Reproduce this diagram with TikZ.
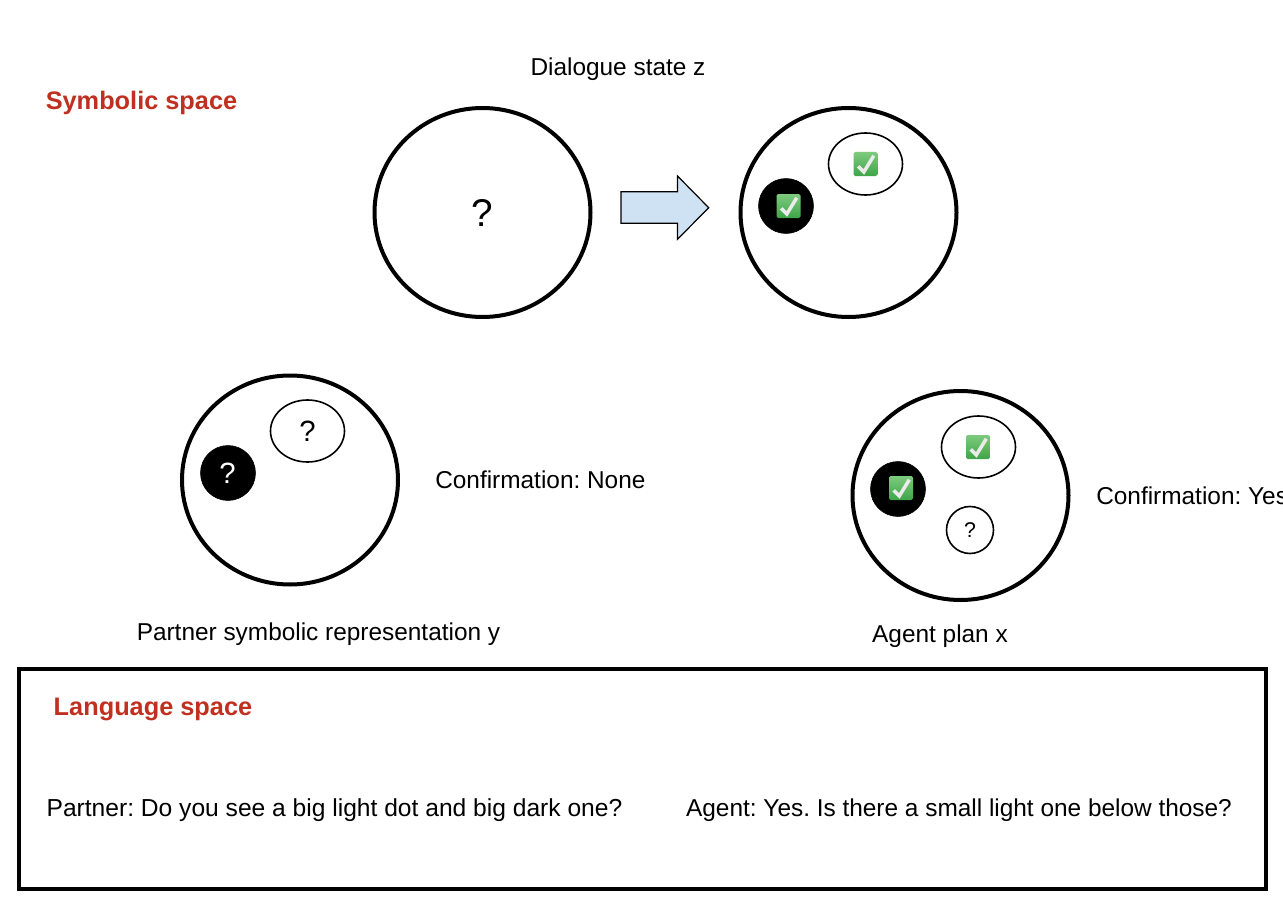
\documentclass[tikz,border=0pt]{standalone}
\usepackage{fontspec}
\setmainfont{Liberation Sans}
\definecolor{headred}{RGB}{192,48,32}
\definecolor{arrowblue}{RGB}{207,226,243}
\definecolor{checktop}{RGB}{126,203,126}
\definecolor{checkbot}{RGB}{62,165,72}
\tikzset{
  bigcircle/.style={line width=3pt,fill=white},
  blackdot/.style={fill=black,draw=black},
  thinring/.style={line width=1.2pt,fill=white},
  bodytext/.style={font=\fontsize{18.3}{22}\selectfont\frenchspacing},
  longtext/.style={font=\fontsize{18.45}{22}\selectfont\frenchspacing},
  headtext/.style={font=\fontsize{19}{23}\selectfont\bfseries,text=headred},
  checkbox/.pic={
    \path [top color=checktop,bottom color=checkbot,rounded corners=1.2] (-12,-12) rectangle (12,12);
    \draw [white!92!black,line width=2.6pt] (-7.3,-2.3) -- (-1.7,-8) -- (8.3,8.3);
  }
}

\begin{document}
\begin{tikzpicture}[x=0.75pt,y=0.75pt,yscale=-1,xscale=1]
\useasboundingbox (0,0) rectangle (1283,899);

%Shape: Circle
\draw [bigcircle] (482.5,212.5) ellipse [x radius=108, y radius=104.5];
%Shape: Circle
\draw [bigcircle] (848.5,212.5) ellipse [x radius=108, y radius=104.5];
%Shape: Circle
\draw [bigcircle] (290,480) ellipse [x radius=108, y radius=104.5];
%Shape: Circle
\draw [bigcircle] (960.5,495.5) ellipse [x radius=108, y radius=104.5];
%Shape: Right Arrow
\draw [fill=arrowblue,line width=0.9pt] (621,191.7) -- (677.5,191.7) -- (677.5,176) -- (708.7,207.7) -- (677.5,239.3) -- (677.5,223.3) -- (621,223.3) -- cycle;

%Shape: Ellipse
\draw [thinring] (865.5,164) ellipse [x radius=37, y radius=31];
\draw [blackdot] (786,206) circle [radius=27.5];
\path (865.5,164) pic {checkbox};
\path (788.5,206) pic {checkbox};

%Shape: Ellipse
\draw [thinring] (307.5,431) ellipse [x radius=37, y radius=31];
\draw [blackdot] (228,473) circle [radius=27.5];

%Shape: Ellipse
\draw [thinring] (978.5,447) ellipse [x radius=37, y radius=31];
\draw [blackdot] (898,489) circle [radius=27.5];
\draw [thinring] (970,530) circle [radius=23.5];
\path (978,447) pic {checkbox};
\path (901,488) pic {checkbox};

%Shape: Rectangle
\draw [line width=3pt] (19,669) rectangle (1265.5,888.5);

% Text Node
\draw (141.5,103) node (symbolichead) [headtext] {Symbolic space};
% Text Node
\draw (618,69) node (statelabel) [bodytext] {Dialogue state z};
% Text Node
\draw (482,213) node (emptymark) [font=\fontsize{29}{32}\selectfont] {?};
% Text Node
\draw (307.5,431) node (partnerlight) [font=\fontsize{22}{26}\selectfont] {?};
% Text Node
\draw (227.5,473) node (partnerdark) [font=\fontsize{22}{26}\selectfont,text=white] {?};
% Text Node
\draw (970,530) node (agentsmall) [font=\fontsize{16}{20}\selectfont] {?};
% Text Node
\draw (435,480) node (partnerconf) [bodytext,anchor=west,inner sep=0] {Confirmation: None};
% Text Node
\draw (1096,496) node (agentconf) [bodytext,anchor=west,inner sep=0] {Confirmation: Yes};
% Text Node
\draw (318.5,634) node (partnerlabel) [bodytext] {Partner symbolic representation y};
% Text Node
\draw (940,636) node (agentlabel) [bodytext] {Agent plan x};
% Text Node
\draw (153,709) node (languagehead) [headtext] {Language space};
% Text Node
\draw (334.5,810) node (partnerline) [longtext] {Partner: Do you see a big light dot and big dark one?};
% Text Node
\draw (959,810) node (agentline) [bodytext] {Agent: Yes. Is there a small light one below those?};

\end{tikzpicture}
\end{document}
